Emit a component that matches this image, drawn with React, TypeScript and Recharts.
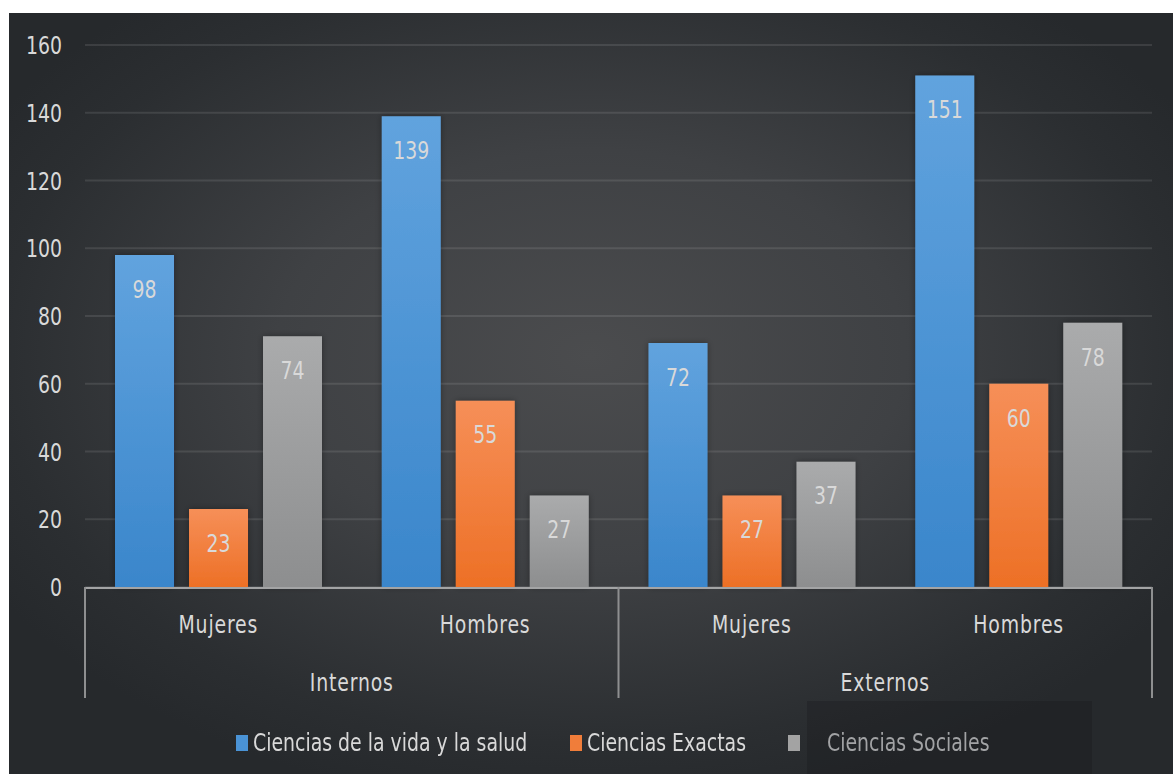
import React from 'react';
import { BarChart, Bar, XAxis, YAxis, CartesianGrid, Legend, LabelList } from 'recharts';

const genders = ['Mujeres', 'Hombres', 'Mujeres', 'Hombres'];
const groups = ['Internos', 'Internos', 'Externos', 'Externos'];
const vida = [98, 139, 72, 151];
const exactas = [23, 55, 27, 60];
const sociales = [74, 27, 37, 78];
const yTicks = [0, 20, 40, 60, 80, 100, 120, 140, 160];
const seriesNames = ['Ciencias de la vida y la salud', 'Ciencias Exactas', 'Ciencias Sociales'];

const data = genders.map((g, i) => ({
  slot: i + 0.5,
  gender: g,
  group: groups[i],
  vida: vida[i],
  exactas: exactas[i],
  sociales: sociales[i],
}));

// group boundaries in category-slot units
const sepTicks = [0, 2, 4];

const FONT = "'DejaVu Sans Condensed', 'DejaVu Sans', sans-serif";
const TXT = '#d9d9d9';
const SX = 0.84;

const NarrowText = ({ x, y, anchor, dy, children, fill = TXT, size = 25, spacing = 0 }: any) => (
  <text
    transform={`translate(${x},${y}) scale(${SX},1)`}
    textAnchor={anchor}
    dy={dy}
    fill={fill}
    fontSize={size}
    fontFamily={FONT}
    letterSpacing={spacing}
  >
    {children}
  </text>
);

const YTick = (props: any) => (
  <NarrowText x={props.x} y={props.y} anchor="end" dy="0.36em">
    {props.payload.value}
  </NarrowText>
);

const XTick = (props: any) => (
  <NarrowText x={props.x} y={props.y} anchor="middle" dy="0.71em" spacing={1}>
    {props.payload.value}
  </NarrowText>
);

const SepTick = (props: any) => (
  <line x1={props.x} x2={props.x} y1={props.y} y2={Number(props.y) + 111} stroke="#8e8f90" strokeWidth={2} />
);

const BarLabel = (props: any) => {
  const { x, y, width, value } = props;
  return (
    <NarrowText x={Number(x) + Number(width) / 2} y={Number(y) + 25} anchor="middle" dy="0.71em">
      {value}
    </NarrowText>
  );
};

const renderLegend = () => {
  const sq = (color: string) => ({
    position: 'absolute' as const,
    top: 34,
    width: 12,
    height: 16,
    background: color,
  });
  const txt = (left: number, color: string) => ({
    position: 'absolute' as const,
    left,
    top: 27,
    lineHeight: '30px',
    fontSize: 25,
    fontFamily: FONT,
    color,
    whiteSpace: 'nowrap' as const,
    transform: `scaleX(${SX})`,
    transformOrigin: 'left center',
  });
  return (
    <div style={{ position: 'relative', width: '100%', height: 73 }}>
      <div style={{ position: 'absolute', left: 798, top: 0, width: 285, height: 73, background: 'rgba(20,22,24,0.28)' }} />
      <div style={{ ...sq('#4a93d6'), left: 227 }} />
      <div style={txt(244, TXT)}>{seriesNames[0]}</div>
      <div style={{ ...sq('#f07d3a'), left: 561 }} />
      <div style={txt(578, TXT)}>{seriesNames[1]}</div>
      <div style={{ ...sq('#a3a3a3'), left: 779 }} />
      <div style={txt(818, '#a2a3a5')}>{seriesNames[2]}</div>
    </div>
  );
};

export default function App() {
  return (
    <div
      style={{
        position: 'absolute',
        left: 9,
        top: 13,
        width: 1164,
        height: 761,
        background: 'radial-gradient(ellipse 60% 60% at 50% 45%, #4b4c4e 0%, #3f4144 45%, #2b2e31 85%, #26292c 100%)',
      }}
    >
      <BarChart
        width={1164}
        height={761}
        data={data}
        margin={{ top: 32, right: 21, left: 0, bottom: 0 }}
        barCategoryGap="11.25%"
        barGap={15}
      >
        <defs>
          <linearGradient id="gBlue" x1="0" y1="0" x2="0" y2="1">
            <stop offset="0%" stopColor="#61a3de" />
            <stop offset="100%" stopColor="#3a86cb" />
          </linearGradient>
          <linearGradient id="gOrange" x1="0" y1="0" x2="0" y2="1">
            <stop offset="0%" stopColor="#f68f58" />
            <stop offset="100%" stopColor="#ed7026" />
          </linearGradient>
          <linearGradient id="gGray" x1="0" y1="0" x2="0" y2="1">
            <stop offset="0%" stopColor="#aaabac" />
            <stop offset="100%" stopColor="#8d8e8f" />
          </linearGradient>
          <filter id="shadow" x="-20%" y="-20%" width="140%" height="140%">
            <feDropShadow dx="0" dy="0" stdDeviation="3" floodColor="#000" floodOpacity="0.35" />
          </filter>
        </defs>
        <CartesianGrid vertical={false} stroke="rgba(255,255,255,0.1)" strokeWidth={2} />
        <XAxis
          xAxisId="a_sep"
          type="number"
          dataKey="slot"
          domain={[0, genders.length]}
          allowDataOverflow
          ticks={sepTicks}
          interval={0}
          height={1}
          axisLine={false}
          tickLine={false}
          tickSize={0}
          tickMargin={0}
          tick={<SepTick />}
        />
        <XAxis
          xAxisId="b_main"
          dataKey="gender"
          height={55}
          interval={0}
          tickLine={false}
          tickSize={0}
          tickMargin={27}
          axisLine={{ stroke: '#a3a4a5', strokeWidth: 2 }}
          tick={<XTick />}
        />
        <XAxis
          xAxisId="c_group"
          dataKey="group"
          allowDuplicatedCategory={false}
          height={58}
          interval={0}
          axisLine={false}
          tickLine={false}
          tickSize={0}
          tickMargin={30}
          tick={<XTick />}
        />
        <YAxis
          domain={[0, 160]}
          ticks={yTicks}
          width={76}
          axisLine={false}
          tickLine={false}
          tickSize={0}
          tickMargin={23}
          tick={<YTick />}
        />
        <Legend verticalAlign="bottom" height={73} content={renderLegend} />
        <Bar xAxisId="b_main" dataKey="vida" name={seriesNames[0]} fill="url(#gBlue)" filter="url(#shadow)" isAnimationActive={false}>
          <LabelList dataKey="vida" content={<BarLabel />} />
        </Bar>
        <Bar xAxisId="b_main" dataKey="exactas" name={seriesNames[1]} fill="url(#gOrange)" filter="url(#shadow)" isAnimationActive={false}>
          <LabelList dataKey="exactas" content={<BarLabel />} />
        </Bar>
        <Bar xAxisId="b_main" dataKey="sociales" name={seriesNames[2]} fill="url(#gGray)" filter="url(#shadow)" isAnimationActive={false}>
          <LabelList dataKey="sociales" content={<BarLabel />} />
        </Bar>
      </BarChart>
    </div>
  );
}
